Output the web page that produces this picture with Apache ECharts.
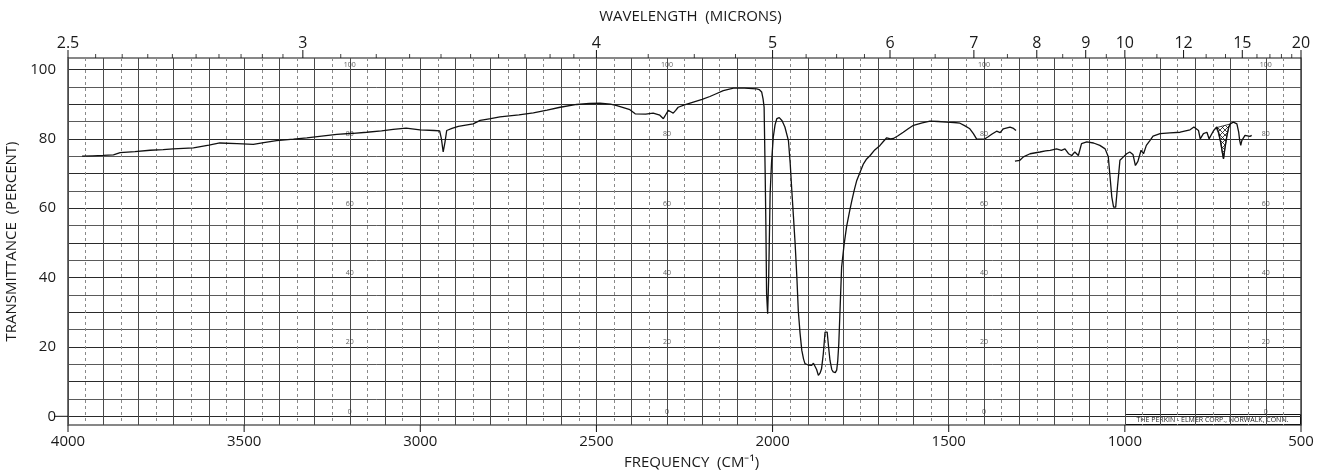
<!DOCTYPE html>
<html>
<head>
<meta charset="utf-8">
<script src="https://cdn.jsdelivr.net/npm/echarts@6/dist/echarts.min.js"></script>
<style>
  html, body { margin: 0; padding: 0; background: #fff; }
  #chart { width: 1317px; height: 472px; }
</style>
</head>
<body>
<div id="chart"></div>
<script>
// axis labels
const freqLabels = [4000, 3500, 3000, 2500, 2000, 1500, 1000, 500]
const waveLabels = [2.5, 3, 4, 5, 6, 7, 8, 9, 10, 12, 15, 20]
const waveMinor = [2.55, 2.6, 2.65, 2.7, 2.75, 2.8, 2.85, 2.9, 2.95,
  3.1, 3.2, 3.3, 3.4, 3.5, 3.6, 3.7, 3.8, 3.9,
  4.25, 4.5, 4.75, 5.25, 5.5, 5.75, 6.5, 7.5, 8.5, 9.5, 11, 13, 14, 16, 17, 18, 19]
const yLabels = [0, 20, 40, 60, 80, 100]
const yFine = [0, 5, 10, 15, 20, 25, 30, 35, 40, 45, 50, 55, 60, 65, 70, 75, 80, 85, 90, 95, 100]
const yMajor = [0, 10, 20, 30, 40, 50, 60, 70, 80, 90, 100]
const Y_MIN = -2.5
const Y_MAX = 103.3

// small percent marks printed on the chart paper
const paperFreqs = [3200, 2300, 1400, 600]
const paperLevels = [0, 20, 40, 60, 80, 100]

// first trace (4000 - 1310 cm-1)
const freq1 = [3960, 3930, 3900, 3871, 3852, 3810, 3767, 3730, 3701, 3644, 3600, 3569, 3520, 3474,
  3440, 3408, 3360, 3322, 3280, 3237, 3190, 3152, 3110, 3077, 3040, 3001, 2960, 2945, 2940, 2935,
  2930, 2925, 2910, 2892, 2850, 2830, 2800, 2774, 2720, 2679, 2640, 2603, 2556, 2520, 2490, 2460,
  2442, 2405, 2390, 2386, 2360, 2339, 2320, 2310, 2303, 2296, 2289, 2282, 2275, 2268, 2250, 2225,
  2200, 2178, 2160, 2140, 2111, 2080, 2045, 2038, 2031, 2027, 2024, 2021, 2019, 2017, 2014, 2011,
  2009, 2007, 2003, 1998, 1993, 1988, 1981, 1973, 1965, 1955, 1950, 1946, 1941, 1936, 1931, 1927,
  1922, 1917, 1912, 1908, 1899, 1889, 1884, 1880, 1875, 1870, 1865, 1861, 1856, 1851, 1845, 1841,
  1837, 1832, 1828, 1822, 1818, 1815, 1812, 1808, 1804, 1797, 1790, 1782, 1775, 1768, 1761, 1750,
  1742, 1733, 1723, 1710, 1695, 1685, 1676, 1665, 1657, 1645, 1629, 1615, 1600, 1575, 1553, 1530,
  1506, 1485, 1468, 1455, 1440, 1430, 1421, 1410, 1397, 1388, 1378, 1364, 1354, 1345, 1326, 1316, 1309]
const trans1 = [75.0, 75.1, 75.2, 75.4, 76.0, 76.3, 76.7, 76.9, 77.1, 77.4, 78.2, 78.8, 78.6, 78.4,
  79.0, 79.5, 79.9, 80.3, 80.8, 81.3, 81.6, 81.9, 82.3, 82.7, 83.1, 82.6, 82.4, 82.3, 80.0, 76.2,
  79.0, 82.4, 83.0, 83.6, 84.3, 85.3, 85.8, 86.3, 86.9, 87.5, 88.3, 89.1, 89.9, 90.2, 90.3, 90.0,
  89.6, 88.4, 87.2, 86.9, 87.1, 87.4, 86.8, 85.8, 87.0, 88.2, 87.8, 87.4, 88.2, 89.1, 89.8, 90.6,
  91.4, 92.2, 93.0, 93.9, 94.6, 94.6, 94.4, 94.2, 93.5, 91.5, 89.1, 70.0, 55.0, 35.4, 29.6, 40.0,
  52.0, 64.0, 73.0, 80.5, 84.0, 85.8, 86.1, 85.2, 83.4, 79.5, 73.0, 66.1, 58.0, 49.8, 40.0, 30.5,
  24.0, 19.0, 16.5, 15.2, 14.8, 14.7, 15.3, 15.7, 13.5, 11.8, 12.5, 13.7, 18.0, 24.3, 24.3, 20.0,
  16.1, 13.5, 12.8, 12.6, 13.3, 16.0, 20.9, 32.0, 43.0, 49.5, 54.6, 58.8, 62.2, 65.3, 68.0, 70.8,
  72.8, 74.2, 75.2, 76.8, 78.1, 79.3, 80.3, 80.0, 80.1, 80.8, 81.9, 82.9, 83.9, 84.6, 85.1, 85.0,
  84.8, 84.7, 84.5, 83.8, 82.9, 81.5, 80.0, 79.9, 80.0, 80.6, 81.3, 82.2, 81.8, 82.9, 83.4, 83.0, 82.4]

// second trace (1310 - 640 cm-1)
const freq2 = [1312, 1298, 1288, 1269, 1241, 1225, 1212, 1194, 1180, 1170, 1160, 1151, 1142, 1132,
  1123, 1108, 1089, 1071, 1056, 1047, 1042, 1037, 1032, 1026, 1021, 1014, 1004, 995, 986, 977, 970,
  963, 954, 947, 939, 929, 920, 900, 872, 843, 815, 804, 791, 786, 777, 767, 761, 748, 739, 733, 727,
  722, 720, 716, 710, 705, 701, 692, 682, 677, 674, 671, 668, 659, 654, 645, 640]
const trans2 = [73.6, 73.8, 74.8, 75.7, 76.2, 76.5, 76.7, 77.1, 76.7, 77.1, 75.7, 75.2, 76.2, 75.2,
  78.6, 79.1, 78.8, 78.1, 77.1, 74.8, 69.0, 63.2, 60.3, 60.3, 66.1, 73.8, 74.8, 75.7, 76.2, 75.5, 72.3,
  73.5, 76.7, 75.7, 78.1, 79.5, 80.8, 81.5, 81.7, 81.9, 82.6, 83.4, 82.4, 80.0, 81.5, 81.9, 80.0, 82.4,
  83.4, 81.6, 78.6, 75.4, 74.2, 77.2, 81.0, 83.4, 84.3, 84.8, 84.3, 82.0, 79.5, 78.1, 79.5, 81.0, 81.5,
  80.7, 81.0]

// cross-hatched band
const hatchFreq = [741, 735, 729, 724, 720, 716, 711, 705, 700]
const hatchTrans = [83.2, 81.8, 79.2, 76.2, 74.2, 77.2, 80.6, 83.4, 84.3]

const zip = (xs, ys) => xs.map((x, i) => [x, ys[i]])

// crosshatch pattern
function makeHatch() {
  const c = document.createElement('canvas')
  c.width = 5
  c.height = 5
  const ctx = c.getContext('2d')
  ctx.strokeStyle = '#111'
  ctx.lineWidth = 0.8
  ctx.beginPath()
  ctx.moveTo(0, 0); ctx.lineTo(5, 5)
  ctx.moveTo(5, 0); ctx.lineTo(0, 5)
  ctx.stroke()
  return c
}

const paperData = []
paperFreqs.forEach(f => paperLevels.forEach(l => paperData.push([f, l])))

// edge ticks: kind 1 = wavelength major, 2 = wavelength minor, 3 = frequency, 4 = zero dash
const tickData = [].concat(
  waveLabels.map(w => [10000 / w, 1]),
  waveMinor.map(w => [10000 / w, 2]),
  freqLabels.map(f => [f, 3]),
  [[4000, 4]]
)
const TICK_LEN = { 1: 8, 2: 4, 3: 7, 4: 14 }

const FONT = 'Open Sans'
const INK = '#1a1a1a'

const chart = echarts.init(document.getElementById('chart'), null, { renderer: 'canvas' })

const hiddenX = {
  type: 'value', min: 500, max: 4000, inverse: true, position: 'bottom',
  axisLine: { show: false, onZero: false }, axisTick: { show: false }, axisLabel: { show: false }
}

const option = {
  animation: false,
  backgroundColor: '#fff',
  textStyle: { fontFamily: FONT, color: INK },
  grid: {
    left: 68, right: 16, top: 58, bottom: 47,
    outerBoundsMode: 'none',
    show: true, borderColor: '#111', borderWidth: 1.2, backgroundColor: 'transparent'
  },
  xAxis: [
    {
      type: 'value', min: 500, max: 4000, inverse: true, interval: 500, position: 'bottom',
      name: 'FREQUENCY  (CM⁻¹)', nameLocation: 'middle', nameGap: 30,
      nameTextStyle: { fontFamily: FONT, fontSize: 15, color: INK, padding: [0, 0, 0, 14] },
      axisLine: { show: false, onZero: false },
      axisTick: { show: false },
      axisLabel: { fontFamily: FONT, fontSize: 15, color: INK, margin: 9, customValues: freqLabels, formatter: v => String(v) },
      splitLine: { show: false }
    },
    {
      type: 'value', min: 500, max: 4000, inverse: true, position: 'top',
      name: 'WAVELENGTH  (MICRONS)', nameLocation: 'middle', nameGap: 34,
      nameTextStyle: { fontFamily: FONT, fontSize: 15, color: INK, padding: [0, 0, 0, 12] },
      axisLine: { show: false, onZero: false },
      axisTick: { show: false },
      axisLabel: {
        fontFamily: FONT, fontSize: 16, color: INK, margin: 7,
        customValues: waveLabels.map(w => 10000 / w),
        formatter: v => String(+(10000 / v).toFixed(2))
      },
      splitLine: { show: false }
    },
    Object.assign({}, hiddenX, {
      interval: 50,
      splitLine: { show: true, lineStyle: { color: '#8a8a8a', width: 1, type: [3, 3] } }
    }),
    Object.assign({}, hiddenX, {
      interval: 100,
      splitLine: { show: true, lineStyle: { color: '#4a4a4a', width: 1 } }
    })
  ],
  yAxis: [
    {
      type: 'value', min: Y_MIN, max: Y_MAX,
      name: 'TRANSMITTANCE  (PERCENT)', nameLocation: 'middle', nameGap: 47,
      nameTextStyle: { fontFamily: FONT, fontSize: 15, color: INK },
      axisLine: { show: false, onZero: false },
      axisTick: { show: false, customValues: yFine },
      axisLabel: { fontFamily: FONT, fontSize: 15, color: INK, margin: 12, customValues: yLabels },
      splitLine: { show: true, lineStyle: { color: '#5a5a5a', width: 1 } }
    },
    {
      type: 'value', min: Y_MIN, max: Y_MAX, position: 'left',
      axisLine: { show: false, onZero: false },
      axisTick: { show: false, customValues: yMajor },
      axisLabel: { show: false },
      splitLine: { show: true, lineStyle: { color: '#2a2a2a', width: 1.2 } }
    }
  ],
  series: [
    {
      name: 'paper',
      type: 'scatter',
      symbolSize: 0,
      silent: true,
      z: 1,
      data: paperData,
      label: {
        show: true, position: 'top', distance: 1,
        fontFamily: FONT, fontSize: 7, color: '#333',
        formatter: p => String(p.value[1])
      }
    },
    {
      name: 'ticks',
      type: 'custom',
      silent: true,
      clip: false,
      z: 5,
      data: tickData,
      renderItem: (params, api) => {
        const kind = api.value(1)
        const len = TICK_LEN[kind]
        if (kind === 4) {
          const p = api.coord([api.value(0), 0])
          return { type: 'line', shape: { x1: p[0] - len, y1: p[1], x2: p[0], y2: p[1] }, style: { stroke: '#111', lineWidth: 1 } }
        }
        const top = kind < 3
        const p = api.coord([api.value(0), top ? Y_MAX : Y_MIN])
        return {
          type: 'line',
          shape: { x1: p[0], y1: p[1], x2: p[0], y2: top ? p[1] - len : p[1] + len },
          style: { stroke: '#111', lineWidth: kind === 2 ? 0.8 : 1 }
        }
      }
    },
    {
      name: 'hatch',
      type: 'custom',
      silent: true,
      z: 3,
      data: [[hatchFreq[0], hatchTrans[0]]],
      renderItem: (params, api) => ({
        type: 'polygon',
        shape: { points: hatchFreq.map((f, i) => api.coord([f, hatchTrans[i]])) },
        style: { fill: { image: makeHatch(), repeat: 'repeat' }, stroke: '#111', lineWidth: 0.8 }
      })
    },
    {
      name: 'trace1',
      type: 'line',
      data: zip(freq1, trans1),
      showSymbol: false,
      z: 4,
      lineStyle: { color: '#111', width: 1.3 }
    },
    {
      name: 'trace2',
      type: 'line',
      data: zip(freq2, trans2),
      showSymbol: false,
      z: 4,
      lineStyle: { color: '#111', width: 1.3 }
    }
  ],
  graphic: [
    {
      type: 'group', right: 16, bottom: 47,
      children: [
        { type: 'rect', shape: { x: 0, y: 0, width: 175, height: 10 }, style: { fill: '#fff', stroke: '#111', lineWidth: 1 } },
        {
          type: 'text', x: 87, y: 5,
          style: { text: 'THE PERKIN - ELMER CORP., NORWALK, CONN.', fontFamily: FONT, fontSize: 7, fill: INK, align: 'center', verticalAlign: 'middle' }
        }
      ]
    }
  ]
}

chart.setOption(option)
</script>
</body>
</html>
